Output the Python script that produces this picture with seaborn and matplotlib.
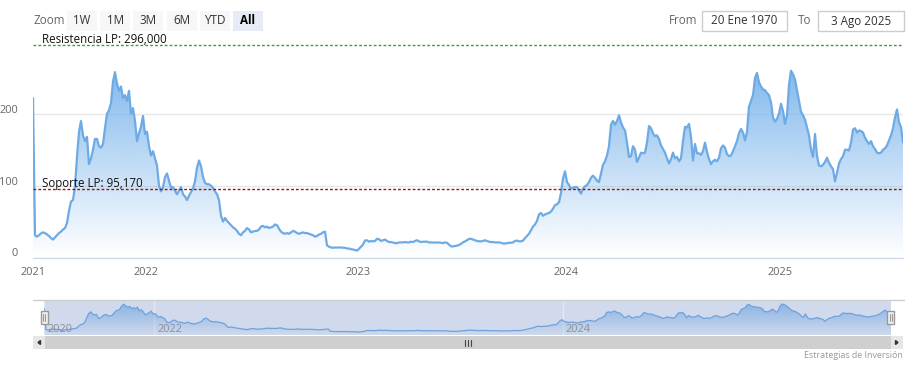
import numpy as np
import pandas as pd
import seaborn as sns
import matplotlib.pyplot as plt
import matplotlib.colors as mcolors
from matplotlib.patches import Rectangle
from matplotlib.transforms import ScaledTranslation, blended_transform_factory

# ---- data (ordinal axis: one list per calendar year) ----
seg_2021 = [222, 31, 29, 31, 33.5, 35, 34, 32, 30, 27,
            25, 28, 31, 34, 36, 39, 41, 48, 65, 78,
            80, 99, 140, 175, 190, 170, 162, 168, 130, 138,
            150, 165, 165, 155, 153, 158, 180, 200, 205, 215,
            245, 258, 242, 232, 238, 222, 226, 218, 232, 200,
            208, 190, 162, 173, 182, 197, 172]
seg_2022 = [175, 155, 142, 148, 138, 128, 100, 92, 98, 112,
            117, 107, 97, 98, 93, 88, 93, 98, 88, 85,
            80, 86, 91, 96, 106, 125, 135, 127, 112, 104,
            102, 102, 100, 97, 92, 88, 80, 58, 50, 55,
            51, 48, 45, 42, 40, 37, 33, 31, 35, 37,
            41, 39, 35, 36, 37, 37, 39, 43, 44, 42,
            43, 41, 42, 43, 46, 45, 40, 36, 34, 33,
            34, 33, 35, 37, 36, 34, 33, 34, 35, 34,
            34, 33, 32, 31, 29, 30, 32, 33, 35, 36,
            17, 15, 14, 13.5, 14, 13.8, 14, 13.8, 13.5, 13.5,
            12.5, 12.5, 11.6, 11, 10.5, 9.6]
seg_2023 = [12, 15, 18, 23.6, 24, 22, 23, 22.5, 23, 26,
            25.5, 23, 24, 25, 23, 21.5, 21.5, 21, 20, 20,
            21, 21, 21, 21.5, 21, 21, 22, 21.5, 23, 24,
            22.5, 21.5, 22, 22, 22, 21, 21, 20.8, 20.8, 20.8,
            21, 20.5, 20, 21, 20.5, 18, 15.5, 15.5, 16, 16.5,
            17.5, 19, 21, 22.5, 24, 26, 26, 25, 24, 23,
            22.5, 22.5, 23, 24, 23, 22, 21.5, 21.5, 21, 21,
            21, 20.5, 19.5, 19.5, 20, 20.5, 20.5, 21, 23, 23.5,
            22.5, 22.5, 23.5, 27, 30, 33, 38, 43, 46, 51,
            60, 62, 58, 60, 61, 62, 64, 68, 73, 74,
            77, 90, 110, 120]
seg_2024 = [105, 101, 96, 97, 98, 98, 93, 89, 96, 99,
            101, 105, 111, 114, 111, 107, 105, 117, 129, 134,
            142, 155, 185, 190, 185, 190, 198, 188, 181, 177,
            160, 140, 141, 155, 150, 133, 139, 146, 145, 146,
            160, 183, 180, 173, 169, 170, 165, 156, 151, 146,
            138, 131, 137, 146, 138, 140, 134, 138, 162, 182,
            181, 186, 168, 135, 158, 145, 145, 143, 148, 160,
            147, 137, 130, 134, 136, 134, 139, 152, 156, 153,
            144, 141, 142, 148, 155, 162, 173, 179, 174, 163,
            175, 210, 218, 226, 250, 257, 244, 238, 234, 233,
            229, 226, 216, 195, 189, 193, 200]
seg_2025 = [214, 204, 186, 198, 240, 260, 255, 248, 233, 218,
            203, 198, 192, 181, 170, 150, 140, 172, 141, 128,
            127, 129, 133, 139, 132, 127, 123, 106, 118, 131,
            137, 141, 150, 150, 149, 160, 178, 180, 174, 177,
            176, 174, 167, 162, 158, 162, 155, 151, 146, 145,
            146, 150, 152, 156, 163, 170, 180, 195, 206, 188,
            182, 160]

years = ['2021', '2022', '2023', '2024', '2025']
nav_years = ['2020', '2022', '2024']
y_ticks = [0, 100, 200]
resist_level = 296.0
resist_label = 'Resistencia LP: 296,000'
support_level = 95.17
support_label = 'Soporte LP: 95,170'
zoom_buttons = ['1W', '1M', '3M', '6M', 'YTD', 'All']
date_from = '20 Ene 1970'
date_to = '3 Ago 2025'
credits = 'Estrategias de Inversión'

segments = [seg_2021, seg_2022, seg_2023, seg_2024, seg_2025]
values = np.concatenate([np.asarray(s, float) for s in segments])
df = pd.DataFrame({'i': np.arange(len(values)), 'v': values})
seg_len = [len(s) for s in segments]
year_pos = [0] + list(np.cumsum(seg_len)[:-1] - 0.5)
nav_pos = [0, year_pos[1], year_pos[3]]

sns.set_style('white')
plt.rcParams['font.family'] = ['Open Sans', 'DejaVu Sans']

W, H = 910, 368
fig = plt.figure(figsize=(W / 100, H / 100), dpi=100)
line_col = '#6eaae4'


def gradient_fill(ax, x, y, y0, y1, a_top, a_bot, color):
    poly = ax.fill_between(x, y, y0, color='none', lw=0)
    grad = np.zeros((256, 1, 4))
    grad[:, 0, :3] = mcolors.to_rgb(color)
    grad[:, 0, 3] = np.linspace(a_bot, a_top, 256)
    im = ax.imshow(grad, extent=[x.min(), x.max(), y0, y1], origin='lower',
                   aspect='auto', zorder=1, interpolation='bilinear')
    im.set_clip_path(poly.get_paths()[0], transform=ax.transData)


# ---- main chart ----
ax = fig.add_axes([33 / W, 1 - 257.5 / H, 870 / W, 215.5 / H])
gradient_fill(ax, df['i'].values, df['v'].values, 0, df['v'].max(), 0.95, 0.0, '#7cb5ec')
sns.lineplot(data=df, x='i', y='v', ax=ax, color=line_col, linewidth=1.6, zorder=3)
ax.set_xlim(0, len(values) - 1)
ax.set_ylim(0, 300)
ax.set_xlabel('')
ax.set_ylabel('')
ax.set_yticks(y_ticks, [str(t) for t in y_ticks])
ax.set_xticks(year_pos, years)
ax.yaxis.grid(True, color='#e6e6e6', lw=1, zorder=0)
ax.set_axisbelow(True)
for s in ['top', 'right', 'left']:
    ax.spines[s].set_visible(False)
ax.spines['bottom'].set_color('#ccd6eb')
ax.tick_params(axis='x', length=5, color='#ccd6eb', labelcolor='#666666', labelsize=7.9, pad=2)
ax.tick_params(axis='y', length=0, labelcolor='#666666', labelsize=7.9, pad=10.8)
up = ScaledTranslation(0, 5 / 100, fig.dpi_scale_trans)
for lab in ax.get_yticklabels():
    lab.set_transform(lab.get_transform() + up)

ax.axhline(resist_level, color='#3f9a3f', lw=1, ls=(0, (2, 1.5)), zorder=4)
ax.axhline(support_level, color='#8b1a1a', lw=1, ls=(0, (2, 1.5)), zorder=4)
lift = ScaledTranslation(0, 2 / 100, fig.dpi_scale_trans)
ax.text(4.5, resist_level, resist_label, fontsize=8.3, color='#111111', va='baseline',
        transform=ax.transData + lift, zorder=5)
ax.text(4.5, support_level, support_label, fontsize=8.3, color='#111111', va='baseline',
        transform=ax.transData + lift, zorder=5)

# ---- navigator ----
nav = fig.add_axes([44 / W, 1 - 335 / H, 847 / W, 35 / H])
nav.set_facecolor('#d1daec')
nav_lo, nav_hi = -17, 296
gradient_fill(nav, df['i'].values, df['v'].values, nav_lo, df['v'].max(), 0.6, 0.02, '#5f9be0')
sns.lineplot(data=df, x='i', y='v', ax=nav, color='#6fa2dc', linewidth=0.9, zorder=3)
nav.set_xlim(0, len(values) - 1)
nav.set_ylim(nav_lo, nav_hi)
nav.set_xticks([])
nav.set_yticks([])
nav.set_xlabel('')
nav.set_ylabel('')
for s in nav.spines.values():
    s.set_visible(False)
bt = blended_transform_factory(nav.transData, nav.transAxes)
for p, lab in zip(nav_pos, nav_years):
    nav.axvline(p, color='#e3e7ef', lw=1, zorder=0.5)
    nav.text(p, 0.15, lab, fontsize=7.9, color='#8a8f99', va='center', ha='left',
             transform=bt + ScaledTranslation(3 / 100, 0, fig.dpi_scale_trans), zorder=4)

# ---- chrome: range selector, inputs, scrollbar, credits (pixel coordinates) ----
ch = fig.add_axes([0, 0, 1, 1])
ch.set_xlim(0, W)
ch.set_ylim(H, 0)
ch.set_axis_off()
ch.patch.set_alpha(0)

ch.text(33, 21, 'Zoom', fontsize=8.4, color='#666666', va='center', ha='left')
for k, b in enumerate(zoom_buttons):
    x0 = 67 + k * 33.2
    sel = b == 'All'
    ch.add_patch(Rectangle((x0, 11), 30, 20, fc='#e6ebf5' if sel else '#f7f7f7', ec='none'))
    ch.text(x0 + 15, 21, b, fontsize=8.4, color='#000000' if sel else '#333333',
            ha='center', va='center', fontweight='bold' if sel else 'normal')

ch.text(669, 21, 'From', fontsize=8.4, color='#666666', va='center', ha='left')
ch.add_patch(Rectangle((702, 11), 85, 20, fc='white', ec='#cccccc', lw=1))
ch.text(744.5, 21, date_from, fontsize=8.4, color='#333333', va='center', ha='center')
ch.text(798, 21, 'To', fontsize=8.4, color='#666666', va='center', ha='left')
ch.add_patch(Rectangle((818, 11), 86, 20, fc='white', ec='#cccccc', lw=1))
ch.text(861, 21, date_to, fontsize=8.4, color='#333333', va='center', ha='center')

# navigator outline and handles
ch.plot([33, 904], [300, 300], color='#cccccc', lw=1)
for hx in (40.5, 887):
    ch.add_patch(Rectangle((hx, 311), 7, 13, fc='#f2f2f2', ec='#999999', lw=1, zorder=5))
    for dx in (2.5, 4.5):
        ch.plot([hx + dx, hx + dx], [314, 321], color='#999999', lw=0.8, zorder=6)

# scrollbar
ch.add_patch(Rectangle((33, 336), 870, 13, fc='#f2f2f2', ec='none'))
ch.add_patch(Rectangle((45, 336), 846, 13, fc='#cfcfcf', ec='none'))
ch.add_patch(Rectangle((33, 336), 12, 13, fc='#e6e6e6', ec='none'))
ch.add_patch(Rectangle((891, 336), 12, 13, fc='#e6e6e6', ec='none'))
ch.fill([38, 40.5, 40.5], [342.5, 340.5, 344.5], color='#333333')
ch.fill([898, 895.5, 895.5], [342.5, 340.5, 344.5], color='#333333')
for gx in (464.5, 467.5, 470.5):
    ch.plot([gx, gx], [340, 345.5], color='#444444', lw=0.8)

ch.text(903, 355.5, credits, fontsize=6.4, color='#999999', ha='right', va='center')

fig.savefig('out.png', dpi=100)
